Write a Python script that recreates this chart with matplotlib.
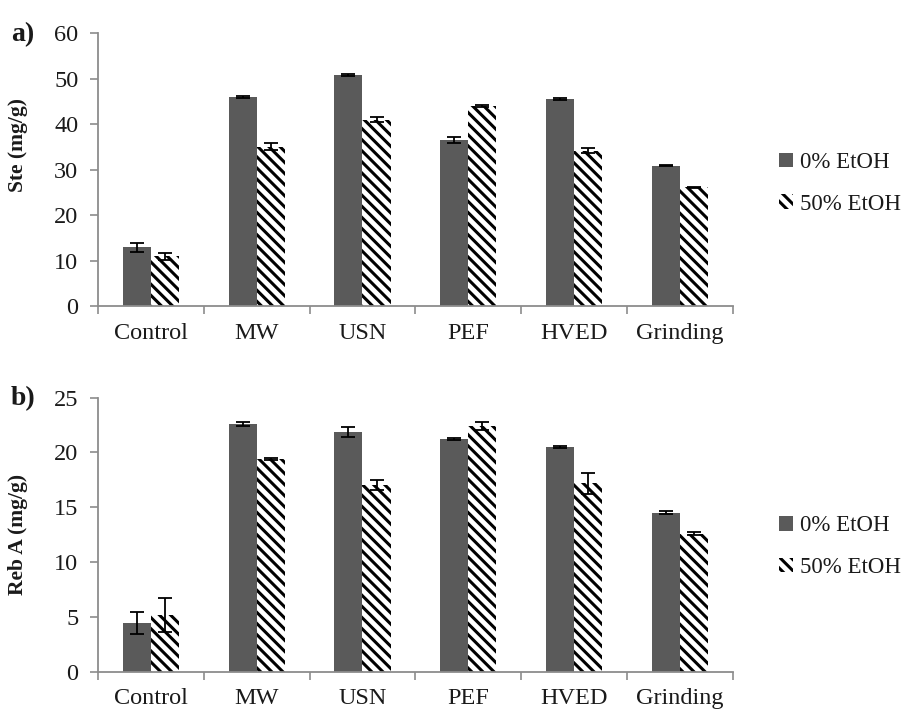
import numpy as np
import matplotlib
matplotlib.use("Agg")
import matplotlib.pyplot as plt

plt.rcParams['font.family'] = ['Liberation Serif', 'DejaVu Serif']
plt.rcParams['hatch.linewidth'] = 2.2

categories = ["Control", "MW", "USN", "PEF", "HVED", "Grinding"]
series = ["0% EtOH", "50% EtOH"]

# a) steviosides
ste_0 = [12.9, 46.0, 50.8, 36.5, 45.5, 30.9]
ste_0_err = [1.0, 0.2, 0.15, 0.6, 0.25, 0.15]
ste_50 = [10.9, 35.1, 41.0, 44.1, 34.2, 26.1]
ste_50_err = [0.8, 0.8, 0.5, 0.2, 0.6, 0.15]

# b) rebaudioside A
reb_0 = [4.4, 22.6, 21.9, 21.2, 20.5, 14.5]
reb_0_err = [1.0, 0.15, 0.45, 0.1, 0.1, 0.15]
reb_50 = [5.2, 19.4, 17.0, 22.4, 17.2, 12.6]
reb_50_err = [1.55, 0.1, 0.45, 0.35, 0.95, 0.1]

bar_color = "#5a5a5a"
axis_color = "#8c8c8c"
text_color = "#1a1a1a"

fig = plt.figure(figsize=(9.14, 7.10), dpi=100)
ax_a = fig.add_axes([0.107, 0.569, 0.695, 0.384])
ax_b = fig.add_axes([0.107, 0.054, 0.695, 0.386])


def draw_panel(ax, v0, e0, v50, e50, ymax, ystep, ylabel, label_y, legend_y):
    x = np.arange(len(categories))
    w = 0.265
    err_kw = dict(ecolor="black", elinewidth=1.3, capsize=5, capthick=1.3)
    ax.bar(x - w / 2, v0, w, yerr=e0, color=bar_color, linewidth=0,
           error_kw=err_kw, label=series[0], zorder=2)
    ax.bar(x + w / 2, v50, w, yerr=e50, color="white", edgecolor="black",
           hatch="\\\\\\", linewidth=0, error_kw=err_kw, label=series[1], zorder=2)

    ax.set_xlim(-0.5, len(categories) - 0.5)
    ax.set_ylim(0, ymax)
    ax.set_yticks(np.arange(0, ymax + 1, ystep))
    ax.set_xticks(x)
    ax.set_xticklabels(categories)
    ax.set_xticks(np.arange(-0.5, len(categories)), minor=True)
    ax.tick_params(axis="x", which="major", length=0, pad=12,
                   labelsize=17.5, labelcolor=text_color)
    ax.tick_params(axis="x", which="minor", length=6, width=1.2,
                   color=axis_color, direction="out")
    ax.tick_params(axis="y", length=6, width=1.2, color=axis_color,
                   labelsize=17.5, labelcolor=text_color, pad=8)

    for side in ("top", "right"):
        ax.spines[side].set_visible(False)
    for side in ("left", "bottom"):
        ax.spines[side].set_color(axis_color)
        ax.spines[side].set_linewidth(1.3)

    ax.set_ylabel(ylabel, fontsize=15.5, fontweight="bold", color=text_color)
    ax.yaxis.set_label_coords(-0.11, label_y)

    ax.legend(loc="center left", bbox_to_anchor=(1.055, legend_y),
              frameon=False, fontsize=16.5, handlelength=0.6, handleheight=0.6,
              handletextpad=0.3, labelspacing=0.9, borderpad=0,
              labelcolor=text_color)


draw_panel(ax_a, ste_0, ste_0_err, ste_50, ste_50_err, 60, 10,
           "Ste (mg/g)", 0.59, 0.45)
draw_panel(ax_b, reb_0, reb_0_err, reb_50, reb_50_err, 25, 5,
           "Reb A (mg/g)", 0.5, 0.456)

fig.text(0.012, 0.951, "a)", fontsize=20, fontweight="bold",
         va="center", color=text_color)
fig.text(0.012, 0.439, "b)", fontsize=20, fontweight="bold",
         va="center", color=text_color)

fig.savefig("out.png", dpi=100)
